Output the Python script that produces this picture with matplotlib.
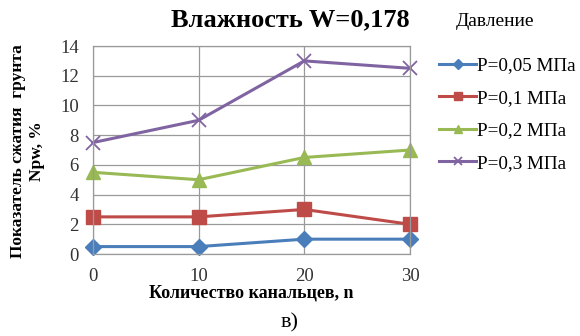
import matplotlib.pyplot as plt

plt.rcParams['font.family'] = ['Liberation Serif', 'DejaVu Serif']

# data
channels = [0, 10, 20, 30]
p005 = [0.5, 0.5, 1.0, 1.0]
p01 = [2.5, 2.5, 3.0, 2.0]
p02 = [5.5, 5.0, 6.5, 7.0]
p03 = [7.5, 9.0, 13.0, 12.5]
labels = ['P=0,05 МПа', 'P=0,1 МПа', 'P=0,2 МПа', 'P=0,3 МПа']

fig = plt.figure(figsize=(5.8, 3.36), dpi=100)
ax = fig.add_axes([0.160, 0.244, 0.547, 0.619])

ax.plot(channels, p005, color='#4A7EBB', marker='D', markersize=8, linewidth=2.2, label=labels[0], clip_on=False)
ax.plot(channels, p01, color='#BE4B48', marker='s', markersize=10, linewidth=2.2, label=labels[1], clip_on=False)
ax.plot(channels, p02, color='#98B954', marker='^', markersize=10, linewidth=2.2, label=labels[2], clip_on=False)
ax.plot(channels, p03, color='#8064A2', marker='x', markersize=10, markeredgewidth=1.3, linewidth=2.2, label=labels[3], clip_on=False)

ax.set_xlim(0, 30)
ax.set_ylim(0, 14)
ax.set_xticks(channels)
ax.set_yticks(range(0, 15, 2))
ax.grid(True, color='#9a9a9a', linewidth=0.9)
ax.set_axisbelow(True)
for s in ax.spines.values():
    s.set_color('#9a9a9a')
    s.set_linewidth(0.9)
ax.tick_params(length=0, labelsize=13.5, colors='#333333')
ax.tick_params(axis='x', pad=10)
ax.tick_params(axis='y', pad=10)

fig.text(0.5, 0.94, 'Влажность W=0,178', ha='center', va='center', fontsize=19, fontweight='bold')
fig.text(0.853, 0.935, 'Давление', ha='center', va='center', fontsize=14)
ax.set_xlabel('Количество канальцев, n', fontsize=13, fontweight='bold', labelpad=0)
fig.text(0.031, 0.55, 'Показатель сжатия  грунта', rotation=90, ha='center', va='center',
         fontsize=12.5, fontweight='bold')
fig.text(0.064, 0.55, 'Npw, %', rotation=90, ha='center', va='center',
         fontsize=12.5, fontweight='bold')
fig.text(0.5, 0.04, 'в)', ha='center', va='center', fontsize=16)

ax.legend(loc='upper left', bbox_to_anchor=(0.757, 0.83), bbox_transform=fig.transFigure,
          frameon=False, fontsize=13.8, handlelength=1.95, handletextpad=0.05,
          labelspacing=0.78, borderaxespad=0, borderpad=0, markerscale=0.6)

fig.savefig('out.png', dpi=100)
